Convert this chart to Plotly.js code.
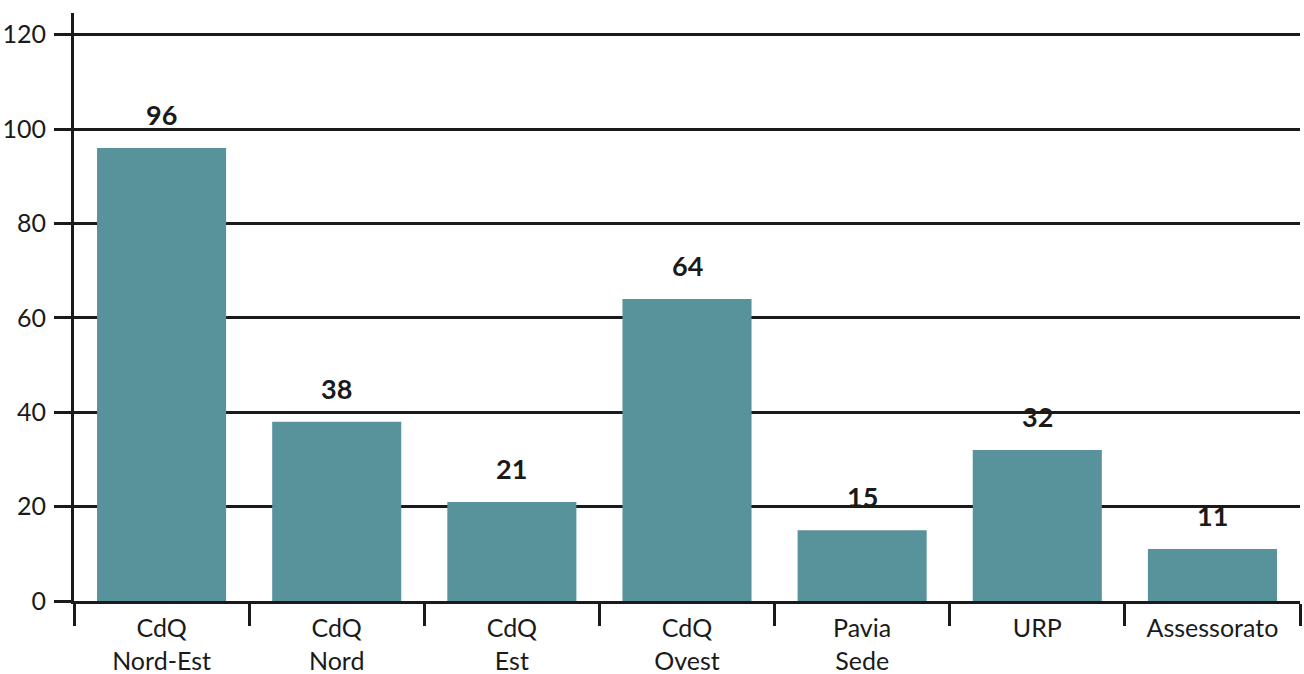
<!DOCTYPE html>
<html>
<head>
<meta charset="utf-8">
<script src="https://cdn.plot.ly/plotly-3.0.1.min.js"></script>
<style>html,body{margin:0;padding:0;background:#fff;}#chart{width:1304px;height:674px;}</style>
</head>
<body>
<div id="chart"></div>
<script>
const categories = ["CdQ<br>Nord-Est", "CdQ<br>Nord", "CdQ<br>Est", "CdQ<br>Ovest", "Pavia<br>Sede", "URP", "Assessorato"];
const values = [96, 38, 21, 64, 15, 32, 11];
const yTickVals = [0, 20, 40, 60, 80, 100, 120];

const ink = "#1a1a1a";
const barColor = "#58939b";
const font = "Lato, 'Open Sans', sans-serif";

const trace = {
  type: "bar",
  x: categories,
  y: values,
  marker: {color: barColor, line: {width: 0}},
  hoverinfo: "none"
};

const annotations = values.map((v, i) => ({
  x: categories[i], y: v, xref: "x", yref: "y",
  text: "<b>" + v + "</b>", showarrow: false,
  yanchor: "bottom", yshift: 15,
  font: {family: font, size: 27, color: ink}
}));

const layout = {
  width: 1304, height: 674,
  margin: {l: 74, r: 4, t: 13, b: 73},
  paper_bgcolor: "#fff", plot_bgcolor: "#fff",
  showlegend: false,
  bargap: 0.263,
  font: {family: font, size: 25, color: ink},
  xaxis: {
    type: "category",
    range: [-0.5, 6.5],
    showline: true, linecolor: ink, linewidth: 3,
    ticks: "outside", tickson: "boundaries", ticklen: 22, tickwidth: 3, tickcolor: ink,
    ticklabelstandoff: 3,
    showgrid: false, zeroline: false,
    tickfont: {family: font, size: 25, color: ink}
  },
  yaxis: {
    range: [0, 124.6],
    tickvals: yTickVals,
    ticktext: yTickVals.map(String),
    showline: true, linecolor: ink, linewidth: 3,
    ticks: "outside", ticklen: 17, tickwidth: 3, tickcolor: ink,
    ticklabelstandoff: 3,
    showgrid: true, gridcolor: ink, gridwidth: 3,
    zeroline: false,
    tickfont: {family: font, size: 25, color: ink}
  },
  annotations: annotations
};

Plotly.newPlot("chart", [trace], layout, {displayModeBar: false, staticPlot: true});
</script>
</body>
</html>
